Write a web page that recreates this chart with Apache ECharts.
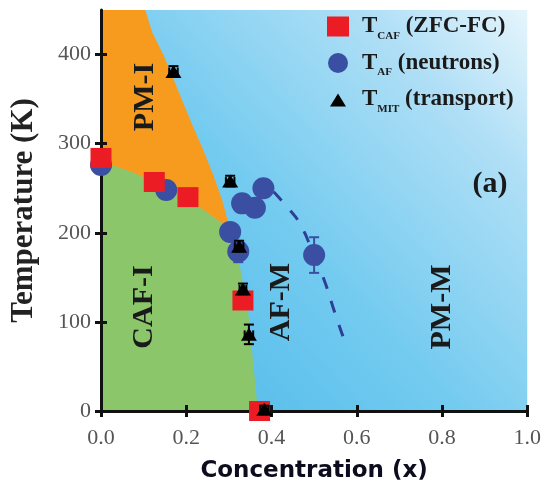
<!DOCTYPE html>
<html>
<head>
<meta charset="utf-8">
<script src="https://cdn.jsdelivr.net/npm/echarts@6/dist/echarts.min.js"></script>
<style>
  html, body { margin: 0; padding: 0; background: #fff; }
  #chart { width: 544px; height: 489px; }
</style>
</head>
<body>
<div id="chart"></div>
<script>
// tick values
const xTicks = [0, 0.2, 0.4, 0.6, 0.8, 1.0]
const yTicks = [0, 100, 200, 300, 400]

// measured points [x, T]
const tCAF = [[0.0, 284], [0.125, 257], [0.204, 240], [0.333, 124], [0.372, 0]]
const tAF = [[0.0, 276], [0.153, 248], [0.303, 201], [0.322, 179], [0.331, 233], [0.361, 228], [0.381, 250], [0.5, 175]]
const tAFErr = [0, 0, 0, 12, 0, 0, 0, 20]
const tMIT = [[0.17, 381], [0.303, 258], [0.324, 185], [0.333, 137], [0.347, 86], [0.383, 2]]
const tMITErr = [[0.01, 6], [0.01, 6], [0.01, 6], [0.008, 6], [0.01, 11], [0.01, 4]]

// AF-M boundary (dashed guide)
const afBoundary = [[0.405, 246], [0.44, 227], [0.467, 210], [0.497, 178], [0.525, 145], [0.548, 111], [0.574, 75]]

// phase regions
const plotArea = [[0, 0], [1, 0], [1, 450], [0, 450]]
const pmiRegion = [[0, 450], [0.104, 450], [0.12, 425], [0.146, 400], [0.168, 375], [0.19, 349], [0.215, 320], [0.24, 293], [0.263, 265], [0.284, 237], [0.305, 200],
  [0.3, 205], [0.233, 228], [0.15, 250], [0.077, 267], [0, 280]]
const cafiRegion = [[0, 0], [0, 280], [0.077, 267], [0.15, 250], [0.233, 228], [0.3, 205], [0.312, 196], [0.326, 162], [0.345, 112], [0.357, 55], [0.368, 0]]

const legendSub = { T_CAF: ['CAF', ' (ZFC-FC)'], T_AF: ['AF', ' (neutrons)'], T_MIT: ['MIT', ' (transport)'] }

const serif = 'Liberation Serif'

function region (points, fill) {
    return {
        type: 'custom', silent: true, z: 1, clip: false,
        data: [[0, 0]],
        renderItem: (params, api) => ({
            type: 'polygon',
            shape: { points: points.map(p => api.coord(p)) },
            style: { fill: fill }
        })
    }
}

function errorBars (points, errs, color, z) {
    return {
        type: 'custom', silent: true, z: z, clip: false,
        data: points.map((p, i) => [p[0], p[1], errs[i][0], errs[i][1]]),
        renderItem: (params, api) => {
            const x = api.value(0), y = api.value(1), xe = api.value(2), ye = api.value(3)
            const c = api.coord([x, y])
            const kids = []
            const st = { stroke: color, lineWidth: 2 }
            if (ye > 0) {
                const t = api.coord([x, y + ye]), b = api.coord([x, y - ye])
                kids.push({ type: 'line', shape: { x1: c[0], y1: t[1], x2: c[0], y2: b[1] }, style: st })
                kids.push({ type: 'line', shape: { x1: c[0] - 5, y1: t[1], x2: c[0] + 5, y2: t[1] }, style: st })
                kids.push({ type: 'line', shape: { x1: c[0] - 5, y1: b[1], x2: c[0] + 5, y2: b[1] }, style: st })
            }
            if (xe > 0) {
                const l = api.coord([x - xe, y]), r = api.coord([x + xe, y])
                kids.push({ type: 'line', shape: { x1: l[0], y1: c[1], x2: r[0], y2: c[1] }, style: st })
                kids.push({ type: 'line', shape: { x1: l[0], y1: c[1] - 4, x2: l[0], y2: c[1] + 4 }, style: st })
                kids.push({ type: 'line', shape: { x1: r[0], y1: c[1] - 4, x2: r[0], y2: c[1] + 4 }, style: st })
            }
            return { type: 'group', children: kids }
        }
    }
}

const chart = echarts.init(document.getElementById('chart'))

const axisCommon = {
    type: 'value', z: 3,
    splitLine: { show: false }
}

const option = {
    animation: false,
    grid: { left: 100, right: 16, top: 10, bottom: 78 },
    legend: {
        orient: 'vertical', left: 322, top: 10,
        itemWidth: 22, itemHeight: 20, itemGap: 10,
        data: [
            { name: 'T_CAF', icon: 'rect' },
            { name: 'T_AF', icon: 'circle' },
            { name: 'T_MIT', icon: 'path://M0,0 M22,20 M3,17 L11,4 L19,17 Z' }
        ],
        formatter: name => '{g|}{t|T}{s|' + legendSub[name][0] + '}{t|' + legendSub[name][1] + '}',
        textStyle: {
            rich: {
                g: { width: 8 },
                t: { fontFamily: serif, fontWeight: 'bold', fontSize: 23, lineHeight: 30, color: '#1a1a1a' },
                s: { fontFamily: serif, fontWeight: 'bold', fontSize: 11, lineHeight: 12, verticalAlign: 'bottom', color: '#1a1a1a' }
            }
        }
    },
    xAxis: [
        Object.assign({}, axisCommon, {
            min: 0, max: 1, interval: 0.2,
            name: 'Concentration (x)', nameLocation: 'middle', nameGap: 49,
            nameTextStyle: { fontFamily: 'DejaVu Sans', fontWeight: 'bold', fontSize: 23, color: '#0c0c1e' },
            axisLine: { lineStyle: { color: '#111', width: 3 } },
            axisTick: { length: 6, lineStyle: { color: '#111', width: 3 } },
            axisLabel: { fontFamily: serif, fontSize: 22, color: '#555', margin: 16, formatter: v => v.toFixed(1) }
        }),
        Object.assign({}, axisCommon, {
            min: 0, max: 1, interval: 0.2, position: 'bottom',
            axisLine: { show: false },
            axisTick: { inside: true, length: 6, lineStyle: { color: '#111', width: 3 } },
            axisLabel: { show: false }
        })
    ],
    yAxis: [
        Object.assign({}, axisCommon, {
            min: 0, max: 450, interval: 100,
            name: 'Temperature (K)', nameLocation: 'middle', nameGap: 62, nameMoveOverlap: false,
            nameTextStyle: { fontFamily: serif, fontWeight: 'bold', fontSize: 31, color: '#222' },
            axisLine: { lineStyle: { color: '#111', width: 3 } },
            axisTick: { length: 6, customValues: yTicks, lineStyle: { color: '#111', width: 3 } },
            axisLabel: { fontFamily: serif, fontSize: 22, color: '#555', margin: 10, customValues: yTicks }
        }),
        Object.assign({}, axisCommon, {
            min: 0, max: 450, interval: 100, position: 'left',
            axisLine: { show: false },
            axisTick: { inside: true, length: 6, customValues: yTicks, lineStyle: { color: '#111', width: 3 } },
            axisLabel: { show: false }
        })
    ],
    graphic: [
        { type: 'text', x: 145, y: 97, rotation: Math.PI / 2, z: 10, style: { text: 'PM-I', font: 'bold 30px "Liberation Serif"', fill: '#1a1a1a', align: 'center', verticalAlign: 'middle' } },
        { type: 'text', x: 144, y: 307, rotation: Math.PI / 2, z: 10, style: { text: 'CAF-I', font: 'bold 30px "Liberation Serif"', fill: '#1a1a1a', align: 'center', verticalAlign: 'middle' } },
        { type: 'text', x: 281, y: 302, rotation: Math.PI / 2, z: 10, style: { text: 'AF-M', font: 'bold 30px "Liberation Serif"', fill: '#1a1a1a', align: 'center', verticalAlign: 'middle' } },
        { type: 'text', x: 442, y: 307, rotation: Math.PI / 2, z: 10, style: { text: 'PM-M', font: 'bold 30px "Liberation Serif"', fill: '#1a1a1a', align: 'center', verticalAlign: 'middle' } },
        { type: 'text', x: 490, y: 184, z: 10, style: { text: '(a)', font: 'bold 30px "Liberation Serif"', fill: '#1a1a1a', align: 'center', verticalAlign: 'middle' } }
    ],
    series: [
        region(plotArea, {
            type: 'linear', x: 0, y: 1, x2: 1, y2: 0,
            colorStops: [
                { offset: 0, color: '#48b7e8' },
                { offset: 0.45, color: '#74cbf0' },
                { offset: 0.8, color: '#b0dff6' },
                { offset: 1, color: '#e6f5fc' }
            ]
        }),
        region(pmiRegion, '#f79b1f'),
        region(cafiRegion, '#8cc66b'),
        {
            type: 'line', z: 3, silent: true, smooth: true, symbol: 'none',
            data: afBoundary,
            lineStyle: { type: [12, 13], width: 3, color: '#2f3f96' }
        },
        errorBars(tAF, tAF.map((p, i) => [0, tAFErr[i]]), '#3a4ea2', 4),
        {
            name: 'T_AF', type: 'scatter', z: 5, clip: false,
            symbol: 'circle', symbolSize: 22,
            itemStyle: { color: '#3a4ea2', opacity: 1 },
            data: tAF
        },
        {
            name: 'T_CAF', type: 'scatter', z: 6, clip: false,
            symbol: 'rect', symbolSize: [21, 20],
            itemStyle: { color: '#ec1c24', opacity: 1 },
            data: tCAF
        },
        errorBars(tMIT, tMITErr, '#000', 7),
        {
            name: 'T_MIT', type: 'scatter', z: 7, clip: false,
            symbol: 'triangle', symbolSize: [16, 13],
            itemStyle: { color: '#000', opacity: 1 },
            data: tMIT
        }
    ]
}

chart.setOption(option)
</script>
</body>
</html>
